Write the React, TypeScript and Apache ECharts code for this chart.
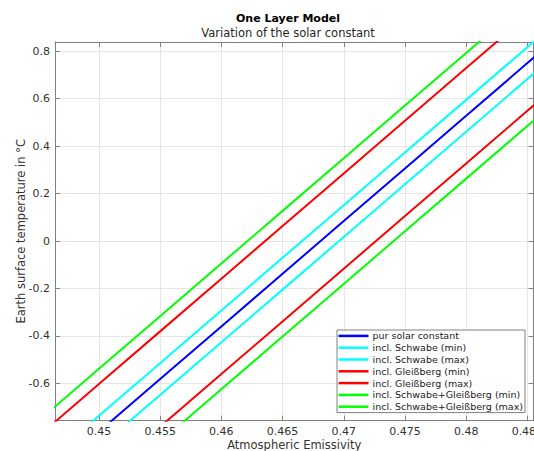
import React, { useEffect, useRef } from "react";
import * as echarts from "echarts";

// Emissivity sample points (x) and temperatures (°C)
const EPS = [0.445, 0.45, 0.455, 0.46, 0.465, 0.47, 0.475, 0.48, 0.485, 0.49];
const PUR = [-1.026, -0.804, -0.582, -0.36, -0.138, 0.084, 0.306, 0.528, 0.75, 0.972];
const SCHWABE_MIN = [-1.093, -0.871, -0.649, -0.427, -0.205, 0.017, 0.239, 0.461, 0.683, 0.905];
const SCHWABE_MAX = [-0.959, -0.737, -0.515, -0.293, -0.071, 0.151, 0.373, 0.595, 0.817, 1.039];
const GLEISS_MIN = [-1.227, -1.005, -0.783, -0.561, -0.339, -0.117, 0.105, 0.327, 0.549, 0.771];
const GLEISS_MAX = [-0.825, -0.603, -0.381, -0.159, 0.063, 0.285, 0.507, 0.729, 0.951, 1.173];
const BOTH_MIN = [-1.291, -1.069, -0.847, -0.625, -0.403, -0.181, 0.041, 0.263, 0.485, 0.707];
const BOTH_MAX = [-0.761, -0.539, -0.317, -0.095, 0.127, 0.349, 0.571, 0.793, 1.015, 1.237];

const SERIES_NAMES = [
  "pur solar constant",
  "incl. Schwabe (min)",
  "incl. Schwabe (max)",
  "incl. Gleißberg (min)",
  "incl. Gleißberg (max)",
  "incl. Schwabe+Gleißberg (min)",
  "incl. Schwabe+Gleißberg (max)",
];
const SERIES_VALUES = [PUR, SCHWABE_MIN, SCHWABE_MAX, GLEISS_MIN, GLEISS_MAX, BOTH_MIN, BOTH_MAX];
const SERIES_COLORS = ["#0000ff", "#00ffff", "#00ffff", "#ff0000", "#ff0000", "#00ff00", "#00ff00"];

const X_TICKS = [0.45, 0.455, 0.46, 0.465, 0.47, 0.475, 0.48, 0.485];
const Y_TICKS = [-0.6, -0.4, -0.2, 0, 0.2, 0.4, 0.6, 0.8];
const X_MIN = 0.44641;
const X_MAX = 0.4855;
const Y_MIN = -0.7576;
const Y_MAX = 0.839;

const FONT = "DejaVu Sans";
const AXIS_COLOR = "#808080";
const GRID_COLOR = "#e6e6e6";
const TEXT_COLOR = "#333333";
const W = 534;
const H = 451;

export default function App() {
  const ref = useRef<HTMLDivElement>(null);

  useEffect(() => {
    if (!ref.current) return;
    const chart = echarts.init(ref.current, undefined, { renderer: "svg", width: W, height: H });

    const axisLine = { show: true, onZero: false, lineStyle: { color: AXIS_COLOR, width: 1 } };

    const option: any = {
      animation: false,
      backgroundColor: "#ffffff",
      textStyle: { fontFamily: FONT },
      graphic: [
        {
          type: "text",
          x: 288,
          y: 18,
          style: {
            text: "One Layer Model",
            textAlign: "center",
            textVerticalAlign: "middle",
            font: `bold 11px '${FONT}'`,
            fill: "#000000",
          },
        },
        {
          type: "text",
          x: 288,
          y: 33,
          style: {
            text: "Variation of the solar constant",
            textAlign: "center",
            textVerticalAlign: "middle",
            font: `11.5px '${FONT}'`,
            fill: "#262626",
          },
        },
      ],
      grid: {
        left: 55,
        top: 42,
        right: 0.5,
        bottom: 30.3,
        containLabel: false,
        outerBoundsMode: "none",
      },
      xAxis: [
        {
          type: "value",
          position: "bottom",
          min: X_MIN,
          max: X_MAX,
          axisLine,
          axisTick: { show: true, inside: true, length: 5, customValues: X_TICKS, lineStyle: { color: AXIS_COLOR } },
          axisLabel: {
            customValues: X_TICKS,
            formatter: (v: number) => String(+v.toFixed(3)),
            color: TEXT_COLOR,
            fontSize: 11,
            fontFamily: FONT,
            margin: 5,
          },
          splitLine: { show: true, lineStyle: { color: GRID_COLOR, width: 1 } },
          name: "Atmospheric Emissivity",
          nameLocation: "middle",
          nameMoveOverlap: false,
          nameGap: 18,
          nameTextStyle: { fontSize: 11.5, color: TEXT_COLOR, fontFamily: FONT },
        },
        {
          type: "value",
          position: "top",
          min: X_MIN,
          max: X_MAX,
          axisLine,
          axisTick: { show: true, inside: true, length: 5, customValues: X_TICKS, lineStyle: { color: AXIS_COLOR } },
          axisLabel: { show: false },
          splitLine: { show: false },
        },
      ],
      yAxis: [
        {
          type: "value",
          position: "left",
          min: Y_MIN,
          max: Y_MAX,
          axisLine,
          axisTick: { show: true, inside: true, length: 5, customValues: Y_TICKS, lineStyle: { color: AXIS_COLOR } },
          axisLabel: {
            customValues: Y_TICKS,
            formatter: (v: number) => String(+v.toFixed(1)),
            color: TEXT_COLOR,
            fontSize: 11,
            fontFamily: FONT,
            margin: 5,
          },
          splitLine: { show: true, lineStyle: { color: GRID_COLOR, width: 1 } },
          name: "Earth surface temperature in °C",
          nameLocation: "middle",
          nameMoveOverlap: false,
          nameGap: 28,
          nameTextStyle: { fontSize: 11.5, color: TEXT_COLOR, fontFamily: FONT },
        },
        {
          type: "value",
          position: "right",
          min: Y_MIN,
          max: Y_MAX,
          axisLine,
          axisTick: { show: true, inside: true, length: 5, customValues: Y_TICKS, lineStyle: { color: AXIS_COLOR } },
          axisLabel: { show: false },
          splitLine: { show: false },
        },
      ],
      legend: {
        orient: "vertical",
        left: 337,
        top: 330,
        padding: [0, 2, 0, 1.5],
        itemGap: 0,
        itemWidth: 30,
        itemHeight: 2.5,
        icon: "rect",
        backgroundColor: "#ffffff",
        borderColor: AXIS_COLOR,
        borderWidth: 1,
        borderRadius: 0,
        data: SERIES_NAMES,
        textStyle: { fontSize: 9.5, fontFamily: FONT, color: "#1a1a1a", lineHeight: 11.8, padding: [0, 0, 0, -1] },
      },
      series: SERIES_NAMES.map((name, i) => ({
        name,
        type: "line",
        xAxisIndex: 0,
        yAxisIndex: 0,
        symbol: "none",
        clip: true,
        color: SERIES_COLORS[i],
        lineStyle: { color: SERIES_COLORS[i], width: 2 },
        data: EPS.map((e, j) => [e, SERIES_VALUES[i][j]]),
      })),
    };

    chart.setOption(option);
    return () => chart.dispose();
  }, []);

  return (
    <div
      ref={ref}
      style={{ position: "fixed", left: 0, top: 0, width: W, height: H }}
    />
  );
}
